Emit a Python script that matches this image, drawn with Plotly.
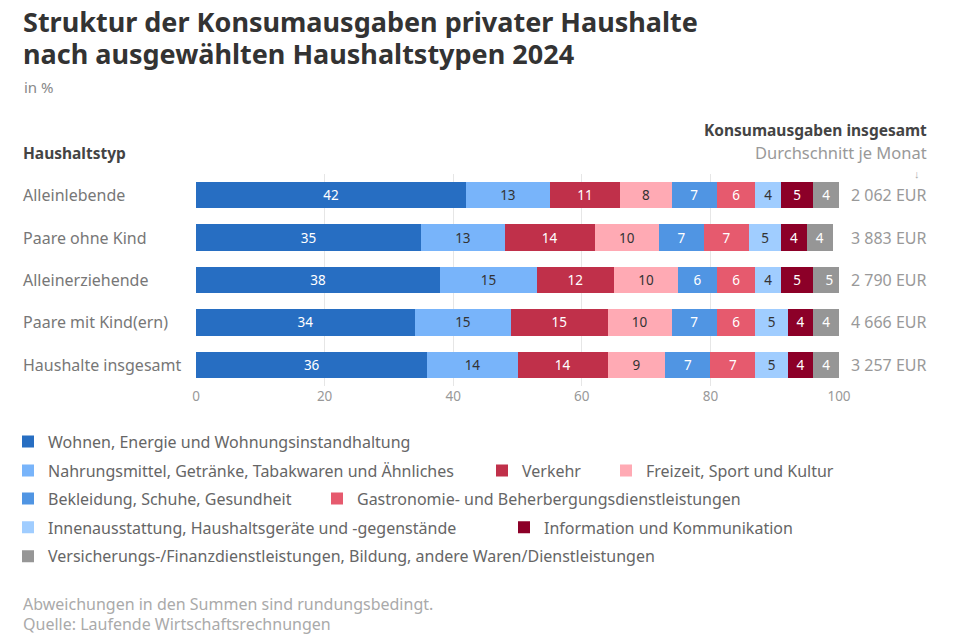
import plotly.graph_objects as go

# Haushaltstypen und Konsumausgaben insgesamt (Durchschnitt je Monat)
haushalte = ["Alleinlebende", "Paare ohne Kind", "Alleinerziehende",
             "Paare mit Kind(ern)", "Haushalte insgesamt"]
ausgaben = ["2 062 EUR", "3 883 EUR", "2 790 EUR", "4 666 EUR", "3 257 EUR"]

# Anteile in %
wohnen = [42, 35, 38, 34, 36]
nahrung = [13, 13, 15, 15, 14]
verkehr = [11, 14, 12, 15, 14]
freizeit = [8, 10, 10, 10, 9]
bekleidung = [7, 7, 6, 7, 7]
gastro = [6, 7, 6, 6, 7]
innen = [4, 5, 4, 5, 5]
info = [5, 4, 5, 4, 4]
sonstige = [4, 4, 5, 4, 4]

x_ticks = [0, 20, 40, 60, 80, 100]

FONT = "Noto Sans"

# name, werte, farbe, textfarbe, legenden-position (x, y in px)
serien = [
    ("Wohnen, Energie und Wohnungsinstandhaltung", wohnen, "#276ec2", "#ffffff", (8, 442)),
    ("Nahrungsmittel, Getränke, Tabakwaren und Ähnliches", nahrung, "#78b4fa", "#333333", (8, 471)),
    ("Verkehr", verkehr, "#c0304a", "#ffffff", (482, 471)),
    ("Freizeit, Sport und Kultur", freizeit, "#ffaab4", "#333333", (606, 471)),
    ("Bekleidung, Schuhe, Gesundheit", bekleidung, "#5095e3", "#ffffff", (8, 499)),
    ("Gastronomie- und Beherbergungsdienstleistungen", gastro, "#e65a6e", "#ffffff", (317, 499)),
    ("Innenausstattung, Haushaltsgeräte und -gegenstände", innen, "#a0cdff", "#333333", (8, 528)),
    ("Information und Kommunikation", info, "#8c0028", "#ffffff", (504, 528)),
    ("Versicherungs-/Finanzdienstleistungen, Bildung, andere Waren/Dienstleistungen",
     sonstige, "#969696", "#ffffff", (8, 557)),
]

# the page puts the figure 8px in from the top left corner
OFF = 8
W, H = 960 - OFF, 635 - OFF
L, R, T, B = 196, 839, 173.75, 386.25   # plot area in screen pixels


def px_x(x):
    return (x - L) / (R - L)


def px_y(y):
    return (B - y) / (B - T)


fig = go.Figure()
legends = {}
for i, (name, werte, farbe, textfarbe, pos) in enumerate(serien):
    key = "legend" if i == 0 else "legend%d" % (i + 1)
    fig.add_trace(go.Bar(
        y=haushalte, x=werte, name=name, orientation="h",
        marker=dict(color=farbe, line=dict(width=0)),
        text=werte, textposition="inside", insidetextanchor="middle",
        textangle=0, constraintext="none",
        textfont=dict(color=textfarbe, size=13.5, family=FONT),
        legend=key, showlegend=True, hoverinfo="skip",
    ))
    legends[key] = dict(
        x=px_x(pos[0]), y=px_y(pos[1]), xanchor="left", yanchor="middle",
        orientation="h", bgcolor="rgba(0,0,0,0)", visible=True,
        font=dict(size=16, color="#666666", family=FONT),
    )

fig.update_layout(**legends)

texte = [
    # text, x, y, size, color, anchor
    ("<b>Struktur der Konsumausgaben privater Haushalte</b>", 21, 21, 27, "#333333", "left"),
    ("<b>nach ausgewählten Haushaltstypen 2024</b>", 21, 53, 27, "#333333", "left"),
    ("in %", 22, 87, 15, "#888888", "left"),
    ("<b>Haushaltstyp</b>", 21, 153, 15.5, "#444444", "left"),
    ("<b>Konsumausgaben insgesamt</b>", 929, 130, 15.5, "#444444", "right"),
    ("Durchschnitt je Monat", 929, 152, 16.5, "#999999", "right"),
    ("↓", 922, 173, 11, "#aaaaaa", "right"),
    ("Abweichungen in den Summen sind rundungsbedingt.", 21, 605, 16, "#aaaaaa", "left"),
    ("Quelle: Laufende Wirtschaftsrechnungen", 21, 625, 16, "#aaaaaa", "left"),
]
annotations = []
for text, x, y, size, color, anchor in texte:
    annotations.append(dict(
        xref="paper", yref="paper", x=px_x(x), y=px_y(y),
        xanchor=anchor, yanchor="middle", showarrow=False, text=text,
        font=dict(size=size, color=color, family=FONT),
    ))

for h, a in zip(haushalte, ausgaben):
    annotations.append(dict(
        xref="paper", yref="y", x=px_x(21), y=h, xanchor="left", yanchor="middle",
        showarrow=False, text=h, font=dict(size=16, color="#777777", family=FONT),
    ))
    annotations.append(dict(
        xref="paper", yref="y", x=px_x(929), y=h, xanchor="right", yanchor="middle",
        showarrow=False, text=a, font=dict(size=16, color="#999999", family=FONT),
    ))

fig.update_layout(
    width=W, height=H,
    margin=dict(l=L - OFF, r=W - (R - OFF), t=T - OFF, b=H - (B - OFF), pad=0,
                autoexpand=False),
    paper_bgcolor="white", plot_bgcolor="white",
    barmode="stack", bargap=0.38,
    annotations=annotations, showlegend=True,
    font=dict(family=FONT, color="#777777"),
    xaxis=dict(range=[0, 100], tickvals=x_ticks, showgrid=True, gridcolor="#e6e6e6",
               gridwidth=1, zeroline=False, showline=False, ticks="",
               tickfont=dict(size=13.5, color="#999999"), fixedrange=True),
    yaxis=dict(categoryorder="array", categoryarray=haushalte[::-1],
               showticklabels=False, showgrid=False, zeroline=False, fixedrange=True),
)

fig.write_html("out.html")
